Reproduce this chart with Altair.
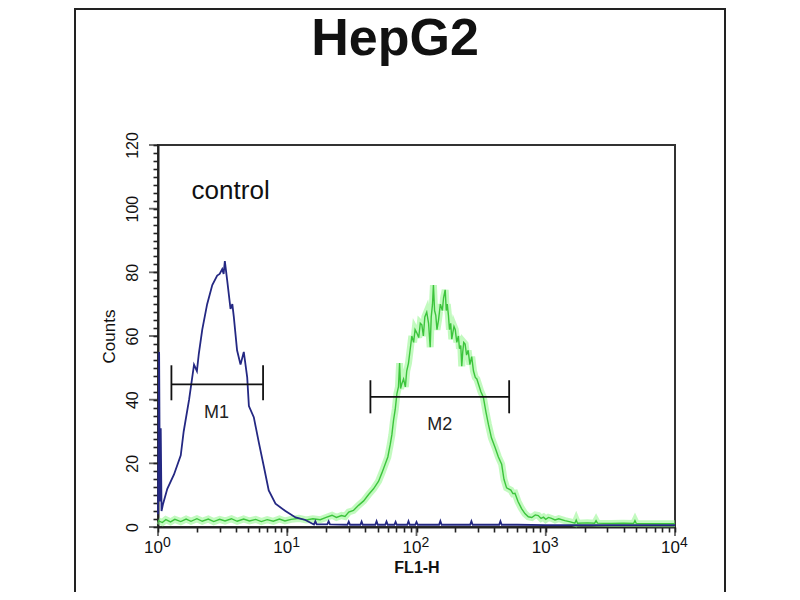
import altair as alt
import pandas as pd

# ---------------- data ----------------
# control histogram (dark blue)
blue_x = [1.0, 1.02, 1.035, 1.05, 1.065, 1.09, 1.18, 1.33, 1.50, 1.58, 1.74, 1.90, 2.0, 2.07,
          2.20, 2.40, 2.63, 2.87, 3.0, 3.14, 3.22, 3.29, 3.43, 3.64, 3.76, 3.86, 4.09, 4.35,
          4.61, 4.90, 5.05, 5.51, 6.03, 6.59, 7.19, 8.11, 9.68, 11.6, 13.8,
          16.1, 16.5, 16.9, 20.4, 20.9, 21.4, 29.2, 29.9, 30.6, 36.8, 37.6, 38.4,
          48.0, 49.1, 50.2, 57.3, 58.6, 59.9, 67.4, 68.9, 70.4, 84.8, 86.7, 88.6,
          97.8, 100, 102.2, 149.5, 153, 156.5, 260, 266, 272, 436, 446, 456,
          600, 1000, 2000, 5000, 10000]
blue_y = [4, 55, 8, 31, 5, 7, 12, 16.5, 22.5, 30, 40, 51, 49, 54.5,
          62, 70, 76, 79, 79.5, 81, 79.5, 83.5, 77.5, 68.5, 70, 66, 55.5, 51,
          55, 47, 38, 34.5, 26.5, 19, 11.5, 7.3, 5, 3, 2.2,
          0.8, 1.8, 0.8, 0.8, 1.8, 0.8, 0.7, 1.7, 0.7, 0.7, 1.7, 0.7,
          0.7, 1.8, 0.7, 0.7, 1.7, 0.7, 0.7, 1.6, 0.7, 0.7, 1.8, 0.7,
          0.7, 1.6, 0.7, 0.7, 1.9, 0.7, 0.7, 1.8, 0.7, 0.7, 1.8, 0.7,
          0.7, 0.6, 0.6, 0.6, 0.6]

# HepG2 histogram (green)
green_x = [1.0, 1.08, 1.15, 1.25, 1.35, 1.5, 1.65, 1.8, 2.0, 2.2, 2.45, 2.7, 3.0, 3.3, 3.7,
           4.1, 4.6, 5.1, 5.7, 6.3, 7.0, 7.8, 8.7, 9.6, 10.7, 12.3, 14, 15.8, 18, 20,
           22.2, 24, 26.3, 28, 29.9, 32.5, 35.6, 39, 42.6, 46.5, 50.9, 54, 57.3, 60,
           62.7, 64.5, 66.4, 68.5, 70.5, 72.5, 74, 75.3, 77, 79.4, 82, 84, 86.7, 89.5,
           92, 95, 97.5, 100.5, 104, 107, 110, 113, 116, 120, 124, 127.6, 130, 133,
           135.2, 138, 141, 144, 148, 153, 158.5, 162, 166.7, 170, 173, 176.6, 180,
           184, 187.5, 191, 195, 199.5, 205, 210.9, 215, 220, 223.9, 228, 232, 237.7,
           244, 251, 259, 267.3, 276, 285, 293, 301, 315, 328.9, 345, 359.7, 380,
           405.5, 430, 456, 475, 497.7, 515, 537, 557, 578, 610, 650, 690, 733, 780,
           830, 875, 920, 960, 1000, 1050, 1109, 1180, 1260, 1406, 1550, 1680, 1720,
           1760, 2100, 2390, 2450, 2510, 3200, 4000, 4780, 4900, 5020, 7000, 10000]
green_y = [2.0, 1.4, 2.3, 1.6, 2.4, 1.7, 2.5, 1.8, 2.6, 1.8, 2.5, 1.7, 2.4, 1.9, 2.6,
           1.8, 2.5, 1.9, 2.4, 1.7, 2.3, 1.8, 2.5, 1.9, 2.4, 2.7, 2.2, 2.6, 2.3, 3.0,
           3.7, 3.0, 3.6, 3.3, 4.7, 5.2, 6.8, 8.2, 10.2, 12, 14.4, 17, 19.8, 22,
           26, 29, 33.5, 37, 41.8, 44, 51.5, 43.5, 45, 46.5, 44, 49, 51.5, 56,
           60, 58, 62, 61, 59.5, 64, 63.5, 60, 66, 67.5, 64, 56.5, 66, 70,
           76, 68, 66.5, 62, 65, 70, 68, 72, 74.5, 68, 70, 66.5, 62,
           64, 59, 61, 63, 62, 58, 60, 56, 57, 50.5, 55, 58, 57.5,
           54, 55.5, 51, 53.5, 49, 47, 46.5, 45, 42.5, 40.8, 36, 32.3, 28,
           25, 22, 19.7, 15, 12.3, 12, 11.6, 10.5, 10.6, 8, 5.8, 4.2, 3.2, 3.0,
           3.8, 3.6, 2.7, 3.1, 2.4, 3.0, 2.7, 2.2, 2.6, 2.0, 1.6, 1.2, 2.2,
           1.2, 1.3, 1.2, 2.0, 1.2, 1.1, 1.2, 1.1, 2.0, 1.1, 1.0, 1.0]

# gate markers
marker_names = ["M1", "M2"]
marker_x1 = [1.27, 44.0]
marker_x2 = [6.5, 521.0]
marker_y = [44.8, 40.9]
marker_lo = [39.8, 35.7]
marker_hi = [50.8, 46.1]
marker_lx = [2.83, 151.5]
marker_ly = [35.8, 32.0]

# axis ticks / labels
decades = [1, 10, 100, 1000, 10000]
exponents = ["0", "1", "2", "3", "4"]
count_majors = [0, 20, 40, 60, 80, 100, 120]
x_ticks = [m * d for d in [1, 10, 100, 1000] for m in range(1, 10)] + [10000]
y_ticks = [i * 2.5 for i in range(49)]

# ---------------- chart ----------------
W, H = 517, 382
FONT = "Liberation Sans"
NARROW = "Liberation Sans Narrow, Liberation Sans, Arial"
INK = "#222222"

xs = alt.Scale(type="log", domain=[1, 10000], nice=False)
ys = alt.Scale(domain=[0, 120], nice=False)

blue = pd.DataFrame({"x": blue_x, "y": blue_y})
green = pd.DataFrame({"x": green_x, "y": green_y})
markers = pd.DataFrame({"name": marker_names, "x1": marker_x1, "x2": marker_x2,
                        "y": marker_y, "lo": marker_lo, "hi": marker_hi,
                        "lx": marker_lx, "ly": marker_ly})
dec = pd.DataFrame({"x": decades, "e": exponents, "y": [0] * len(decades)})
ymaj = pd.DataFrame({"x": [1] * len(count_majors), "y": count_majors})

major_x = "indexof([1,10,100,1000,10000], datum.value) >= 0"
xaxis = alt.Axis(
    values=x_ticks,
    labelExpr=f"{major_x} ? '10' : ''",
    ticks=True, tickSize=5,
    tickColor=INK, tickWidth=1.6, domainColor=INK, domainWidth=2,
    labelFont=FONT, labelFontSize=17, labelColor="#111", labelOffset=-5,
    labelPadding=7, labelOverlap=False, labelFlush=False, labelBound=False,
    grid=False, title="FL1-H", titleFont=FONT, titleFontSize=16,
    titleFontWeight="bold", titleColor="#111", titlePadding=4,
)
yaxis = alt.Axis(
    values=y_ticks,
    labelExpr="datum.value % 20 == 0 ? format(datum.value, 'd') : ''",
    ticks=True, tickSize=5,
    tickColor=INK, tickWidth=1.6, domainColor=INK, domainWidth=2,
    labelFont=NARROW, labelFontSize=16, labelColor="#111",
    labelAngle=270, labelAlign="center", labelBaseline="bottom",
    labelPadding=13, labelOverlap=False, labelFlush=False, labelBound=False,
    grid=False, title="Counts", titleFont=FONT, titleFontSize=17,
    titleFontWeight="normal", titleColor="#111", titlePadding=6,
)


def X(field):
    return alt.X(field, scale=xs, axis=xaxis)


def Y(field):
    return alt.Y(field, scale=ys, axis=yaxis)


blue_line = alt.Chart(blue).mark_line(color="#242883", strokeWidth=1.8).encode(
    x=X("x:Q"), y=Y("y:Q"), order=alt.Order("x:Q"))
green_glow = alt.Chart(green).mark_line(color="#8ff58a", strokeWidth=7, opacity=0.55).encode(
    x=X("x:Q"), y=Y("y:Q"), order=alt.Order("x:Q"))
green_line = alt.Chart(green).mark_line(color="#3cc43c", strokeWidth=1.4).encode(
    x=X("x:Q"), y=Y("y:Q"), order=alt.Order("x:Q"))

mk = alt.Chart(markers)
gate_bar = mk.mark_rule(color="#111", strokeWidth=1.8).encode(
    x=X("x1:Q"), x2="x2:Q", y=Y("y:Q"))
gate_left = mk.mark_rule(color="#111", strokeWidth=1.8).encode(
    x=X("x1:Q"), y=Y("lo:Q"), y2="hi:Q")
gate_right = mk.mark_rule(color="#111", strokeWidth=1.8).encode(
    x=X("x2:Q"), y=Y("lo:Q"), y2="hi:Q")
gate_text = mk.mark_text(font=NARROW, fontSize=18, color="#222", baseline="middle",
                         align="center").encode(
    x=X("lx:Q"), y=Y("ly:Q"), text="name:N")

control = alt.Chart(pd.DataFrame({"t": ["control"], "x": [1.82], "y": [103.0]})).mark_text(
    font=FONT, fontSize=26, color="#111", align="left", baseline="alphabetic").encode(
    x=X("x:Q"), y=Y("y:Q"), text="t:N")

# longer major ticks at the decades and at every 20 counts
x_major = alt.Chart(dec).mark_tick(orient="vertical", size=9, thickness=1.8, color=INK,
                                   yOffset=4.5).encode(x=X("x:Q"), y=Y("y:Q"))
y_major = alt.Chart(ymaj).mark_tick(orient="horizontal", size=9, thickness=1.8, color=INK,
                                    xOffset=-4.5).encode(x=X("x:Q"), y=Y("y:Q"))

expo = alt.Chart(dec).mark_text(font=FONT, fontSize=14, color="#111", align="center",
                                baseline="middle", dx=9, dy=16).encode(
    x=X("x:Q"), y=Y("y:Q"), text="e:N")

title = alt.Chart(pd.DataFrame({"t": ["HepG2"]})).mark_text(
    font=FONT, fontSize=52, fontWeight="bold", color="#111", align="center",
    baseline="alphabetic").encode(x=alt.value(237), y=alt.value(-90), text="t:N")

frame = alt.Chart(pd.DataFrame({"a": [0]})).mark_rect(
    fillOpacity=0, stroke=INK, strokeWidth=2).encode(
    x=alt.value(-83), x2=alt.value(567), y=alt.value(-136), y2=alt.value(480))

chart = alt.layer(
    green_glow, green_line, blue_line, gate_bar, gate_left, gate_right,
    gate_text, control, x_major, y_major, expo, frame, title,
).properties(
    width=W, height=H,
    autosize=alt.AutoSizeParams(type="none"),
    padding={"left": 150, "top": 137, "right": 117, "bottom": 65},
    background="white",
).configure_view(stroke="#333", strokeWidth=2)

chart.save("out.html", embed_options={"renderer": "svg", "actions": False})
